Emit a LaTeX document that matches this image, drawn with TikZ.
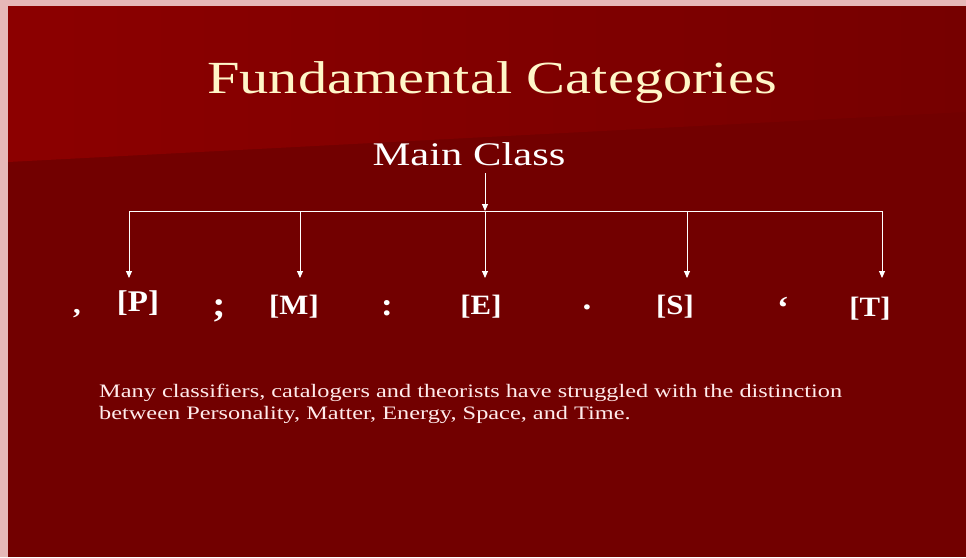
\documentclass[tikz,border=0pt]{standalone}
\usepackage{fontspec}
\setmainfont{Liberation Serif}
\usetikzlibrary{calc,positioning,arrows.meta}

\definecolor{slidepink}{HTML}{E6B8B8}
\definecolor{slidered}{HTML}{720000}
\definecolor{wedgered}{HTML}{8C0000}
\definecolor{wedgeend}{HTML}{760000}
\definecolor{titlecream}{HTML}{FFF6C8}

% text stretched like the slide
\newcommand{\wide}[2]{\scalebox{#1}[1]{#2}}

\tikzset{
  facet/.style={anchor=base,text=white,font=\fontsize{28}{30}\selectfont\bfseries,inner sep=0pt},
  punct/.style={anchor=base,text=white,font=\fontsize{32}{34}\selectfont\bfseries,inner sep=0pt},
  link/.style={draw=white,line width=0.9pt}
}

\begin{document}
\begin{tikzpicture}[x=1pt,y=1pt,>={Triangle[length=7pt,width=6pt,fill=white]}]
        \useasboundingbox (0,0) rectangle (966,-557);
        \fill[slidepink] (0,0) rectangle (966,-557);
        \fill[slidered] (8,-6) rectangle (966,-557);
        \shade[left color=wedgered,right color=wedgeend] (8,-6) -- (966,-6) -- (966,-112) -- (8,-162) -- cycle;
        \node[anchor=base,inner sep=0pt,text=titlecream,font=\fontsize{46}{48}\selectfont] (title) at (492,-93) {\wide{1.27}{Fundamental Categories}};
        \node[anchor=base,inner sep=0pt,text=white,font=\fontsize{33}{35}\selectfont] (mc) at (469,-165) {\wide{1.29}{Main Class}};
        \node[punct,font=\fontsize{28}{30}\selectfont\bfseries] (c1) at (77,-313) {\wide{1.1}{,}};
        \node[facet,font=\fontsize{30}{32}\selectfont\bfseries] (fp) at (138,-311) {\wide{1.1}{[P]}};
        \node[punct,font=\fontsize{36}{38}\selectfont\bfseries] (c2) at (219,-316) {\wide{1.1}{;}};
        \node[facet] (fm) at (294,-314) {\wide{1.1}{[M]}};
        \node[punct] (c3) at (387,-315) {\wide{1.1}{:}};
        \node[facet] (fe) at (481,-314) {\wide{1.1}{[E]}};
        \node[punct] (c4) at (587,-309) {\wide{1.1}{.}};
        \node[facet] (fs) at (675,-314) {\wide{1.1}{[S]}};
        \node[punct] (c5) at (783,-318) {\wide{1.1}{‘}};
        \node[facet] (ft) at (870,-316) {\wide{1.1}{[T]}};
        \node[anchor=base west,inner sep=0pt,align=left,text=white!92!red,font=\fontsize{19}{21.5}\selectfont] (note) at (99,-419)
          {\wide{1.28}{Many classifiers, catalogers and theorists have struggled with the distinction}\\
           \wide{1.28}{between Personality, Matter, Energy, Space, and Time.}};
        \coordinate (top) at (485,-173);
        \coordinate (hub) at (485,-211);
        \coordinate (bp) at (129,-211);
        \coordinate (bm) at (300,-211);
        \coordinate (bs) at (687,-211);
        \coordinate (bt) at (882,-211);
        \coordinate (tp) at (129,-278);
        \coordinate (tm) at (300,-278);
        \coordinate (te) at (485,-278);
        \coordinate (ts) at (687,-278);
        \coordinate (tt) at (882,-278);
        \draw[link] (bp) -- (bt);
        \path[->] (top) edge[link] (hub) (bp) edge[link] (tp) (bm) edge[link] (tm)
          (hub) edge[link] (te) (bs) edge[link] (ts) (bt) edge[link] (tt);
      \end{tikzpicture}
\end{document}
